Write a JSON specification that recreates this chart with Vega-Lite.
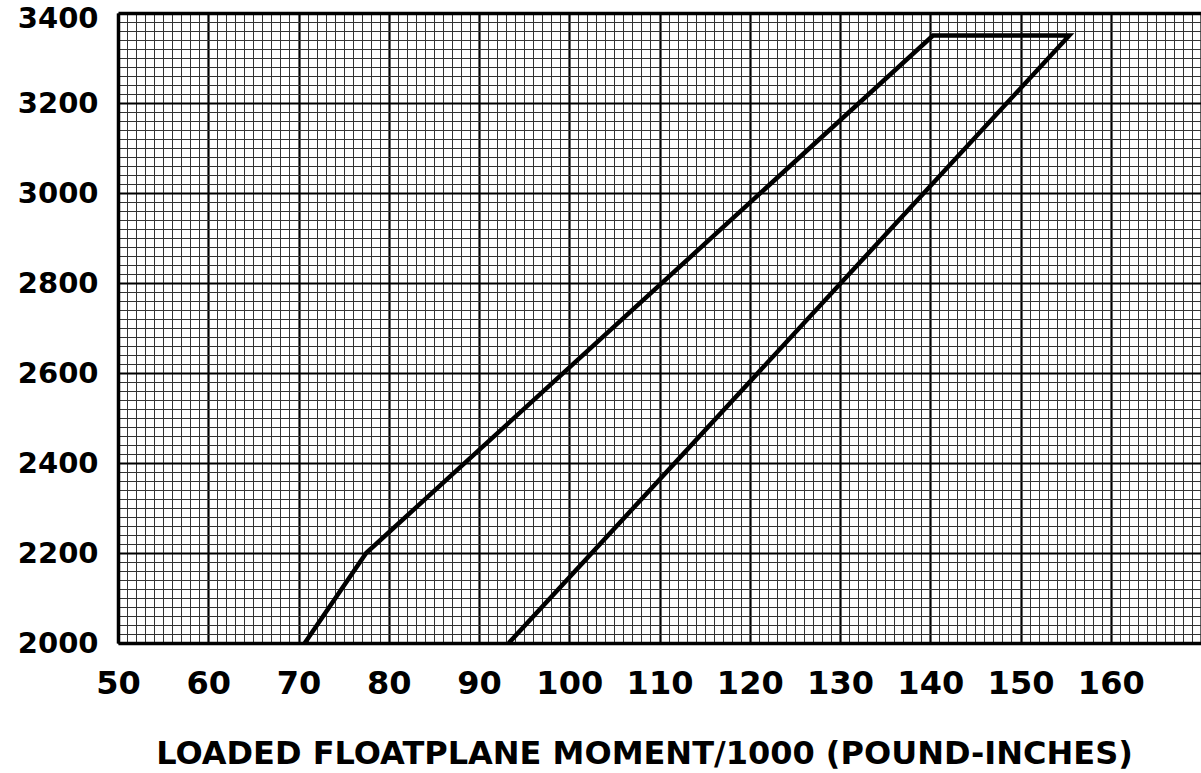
{
  "$schema": "https://vega.github.io/schema/vega-lite/v6.json",
  "width": 1083,
  "height": 630,
  "autosize": "none",
  "padding": {"left": 118, "top": 13, "right": 0, "bottom": 130},
  "background": "white",
  "config": {"view": {"stroke": null}},
  "data": {
    "values": [
      {"order": 1, "moment": 70.7, "weight": 2000},
      {"order": 2, "moment": 77.5, "weight": 2200},
      {"order": 3, "moment": 140.3, "weight": 3350},
      {"order": 4, "moment": 155.4, "weight": 3350},
      {"order": 5, "moment": 93.3, "weight": 2000}
    ]
  },
  "mark": {"type": "line", "color": "black", "strokeWidth": 4.5, "strokeJoin": "miter", "clip": true},
  "encoding": {
    "order": {"field": "order", "type": "quantitative"},
    "x": {
      "field": "moment",
      "type": "quantitative",
      "scale": {"domain": [50, 170], "nice": false, "zero": false},
      "axis": {
        "values": [50,51,52,53,54,55,56,57,58,59,60,61,62,63,64,65,66,67,68,69,70,71,72,73,74,75,76,77,78,79,80,81,82,83,84,85,86,87,88,89,90,91,92,93,94,95,96,97,98,99,100,101,102,103,104,105,106,107,108,109,110,111,112,113,114,115,116,117,118,119,120,121,122,123,124,125,126,127,128,129,130,131,132,133,134,135,136,137,138,139,140,141,142,143,144,145,146,147,148,149,150,151,152,153,154,155,156,157,158,159,160,161,162,163,164,165,166,167,168,169,170],
        "labelExpr": "datum.value % 10 === 0 && datum.value < 170 ? datum.label : ''",
        "labelOverlap": false,
        "labelBound": false,
        "labelFlush": false,
        "ticks": false,
        "grid": true,
        "gridColor": {"condition": {"test": "datum.value % 10 === 0", "value": "#000000"}, "value": "#333333"},
        "gridWidth": {"condition": {"test": "datum.value % 10 === 0", "value": 2.2}, "value": 1},
        "domain": true,
        "domainColor": "black",
        "domainWidth": 3.5,
        "labelFont": "DejaVu Sans",
        "labelFontWeight": "bold",
        "labelFontSize": 32,
        "labelColor": "black",
        "labelBaseline": "alphabetic",
        "labelPadding": 50,
        "title": "LOADED FLOATPLANE MOMENT/1000 (POUND-INCHES)",
        "titleFont": "DejaVu Sans",
        "titleFontWeight": "bold",
        "titleFontSize": 32,
        "titleColor": "black",
        "titleX": 526,
        "titleY": 120,
        "titleAlign": "center",
        "titleBaseline": "alphabetic"
      }
    },
    "y": {
      "field": "weight",
      "type": "quantitative",
      "scale": {"domain": [2000, 3400], "nice": false, "zero": false},
      "axis": {
        "values": [2000,2020,2040,2060,2080,2100,2120,2140,2160,2180,2200,2220,2240,2260,2280,2300,2320,2340,2360,2380,2400,2420,2440,2460,2480,2500,2520,2540,2560,2580,2600,2620,2640,2660,2680,2700,2720,2740,2760,2780,2800,2820,2840,2860,2880,2900,2920,2940,2960,2980,3000,3020,3040,3060,3080,3100,3120,3140,3160,3180,3200,3220,3240,3260,3280,3300,3320,3340,3360,3380,3400],
        "format": "d",
        "labelExpr": "datum.value % 200 === 0 ? datum.label : ''",
        "labelOverlap": false,
        "labelBound": false,
        "labelFlush": false,
        "ticks": false,
        "grid": true,
        "gridColor": {"condition": {"test": "datum.value % 200 === 0", "value": "#000000"}, "value": "#333333"},
        "gridWidth": {"condition": [{"test": "datum.value === 3400", "value": 3.5}, {"test": "datum.value % 200 === 0", "value": 2.2}], "value": 1},
        "domain": true,
        "domainColor": "black",
        "domainWidth": 3.5,
        "labelFont": "DejaVu Sans",
        "labelFontWeight": "bold",
        "labelFontSize": 29,
        "labelColor": "black",
        "labelPadding": 20,
        "labelAlign": "right",
        "labelBaseline": "middle",
        "labelOffset": {"condition": {"test": "datum.value === 3400", "value": 5}, "value": 0},
        "title": null
      }
    }
  }
}
